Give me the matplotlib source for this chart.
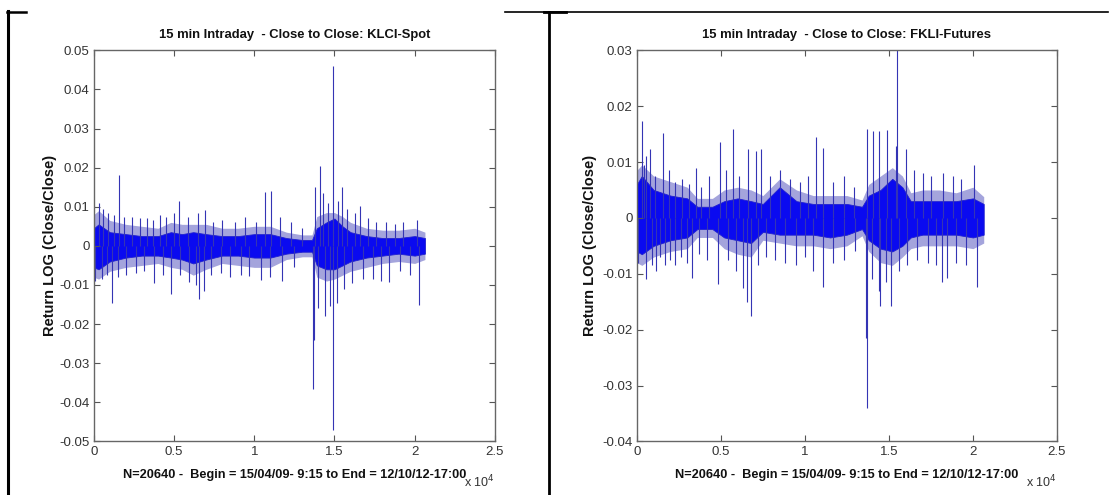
import matplotlib.pyplot as plt
from matplotlib.lines import Line2D

# ---- data (index of 15-min bar, log return) ----
title_left = '15 min Intraday  - Close to Close: KLCI-Spot'
title_right = '15 min Intraday  - Close to Close: FKLI-Futures'
xlabel_txt = 'N=20640 -  Begin = 15/04/09- 9:15 to End = 12/10/12-17:00'
ylabel_txt = 'Return LOG (Close/Close)'

x_ticks = [0, 5000, 10000, 15000, 20000, 25000]
x_ticklabels = ['0', '0.5', '1', '1.5', '2', '2.5']
left_yticks = [-0.05, -0.04, -0.03, -0.02, -0.01, 0, 0.01, 0.02, 0.03, 0.04, 0.05]
left_yticklabels = ['-0.05', '-0.04', '-0.03', '-0.02', '-0.01', '0', '0.01', '0.02', '0.03', '0.04', '0.05']
right_yticks = [-0.04, -0.03, -0.02, -0.01, 0, 0.01, 0.02, 0.03]
right_yticklabels = ['-0.04', '-0.03', '-0.02', '-0.01', '0', '0.01', '0.02', '0.03']

# dense core of the series (upper / lower edge) and the thinner fringe around it
left_band_x = [0, 300, 1000, 2000, 3000, 4000, 4800, 5500, 6200, 7000, 8000, 9000, 10000,
               11000, 12000, 13000, 13600, 13900, 14500, 15000, 15500, 16000, 17000, 18000,
               19000, 20000, 20640]
left_band_hi = [0.0045, 0.0055, 0.0035, 0.003, 0.0025, 0.0025, 0.0035, 0.003, 0.0035, 0.003,
                0.0025, 0.0025, 0.003, 0.003, 0.002, 0.0015, 0.0015, 0.0045, 0.006, 0.007,
                0.005, 0.0035, 0.0025, 0.002, 0.002, 0.0025, 0.002]
left_band_lo = [-0.0055, -0.006, -0.004, -0.003, -0.0025, -0.0025, -0.003, -0.0035, -0.0045,
                -0.0035, -0.0025, -0.0025, -0.003, -0.003, -0.002, -0.0015, -0.0015, -0.005,
                -0.006, -0.006, -0.005, -0.004, -0.003, -0.0025, -0.002, -0.0025, -0.002]
left_fringe_hi = [0.008, 0.009, 0.0065, 0.0055, 0.005, 0.0045, 0.006, 0.0055, 0.0055, 0.0055,
                  0.0045, 0.0045, 0.005, 0.005, 0.0035, 0.0028, 0.0028, 0.0075, 0.0085, 0.0085,
                  0.0075, 0.006, 0.0045, 0.004, 0.004, 0.0045, 0.0035]
left_fringe_lo = [-0.008, -0.0085, -0.0065, -0.0055, -0.005, -0.0045, -0.0055, -0.006, -0.0075,
                  -0.006, -0.0045, -0.005, -0.0055, -0.0055, -0.0035, -0.0028, -0.0028, -0.008,
                  -0.009, -0.0085, -0.0075, -0.0065, -0.0055, -0.0045, -0.004, -0.0045, -0.0035]

left_spike_x = [330, 600, 900, 1250, 1570, 1900, 2400, 2900, 3300, 3700, 4100, 4500, 5000,
                5340, 5900, 6500, 6900, 7400, 8000, 8800, 9400, 10100, 10660, 11060, 11600,
                12300, 13000, 13790, 14080, 14300, 14600, 14940, 15200, 15450, 15800, 16300,
                16600, 17100, 17600, 18200, 18800, 19300, 20150,
                100, 500, 800, 1150, 1500, 2000, 2600, 3100, 3730, 4300, 4830, 5400, 5950,
                6350, 6580, 6850, 7300, 7900, 8500, 9200, 9700, 10400, 11000, 11700, 12500,
                13660, 13700, 14000, 14410, 14700, 14940, 15180, 15600, 16100, 16800, 17400,
                17900, 18430, 19100, 19700, 20300]
left_spike_y = [0.011, 0.0095, 0.0085, 0.008, 0.018, 0.0075, 0.0075, 0.007, 0.007, 0.0065,
                0.008, 0.0075, 0.0085, 0.0115, 0.0075, 0.0085, 0.0092, 0.006, 0.0065, 0.006,
                0.0075, 0.006, 0.0138, 0.014, 0.0075, 0.006, 0.0045, 0.015, 0.0204, 0.0135,
                0.011, 0.046, 0.0115, 0.015, 0.0095, 0.0085, 0.0103, 0.007, 0.006, 0.006,
                0.0055, 0.006, 0.0065,
                -0.009, -0.0085, -0.0075, -0.0146, -0.008, -0.0075, -0.007, -0.0065, -0.0096,
                -0.0075, -0.0123, -0.0075, -0.0092, -0.01, -0.0137, -0.0115, -0.0075, -0.007,
                -0.008, -0.0075, -0.0078, -0.0087, -0.008, -0.009, -0.0055, -0.0367, -0.024,
                -0.016, -0.018, -0.0155, -0.047, -0.0146, -0.011, -0.0095, -0.0085, -0.0085,
                -0.009, -0.0093, -0.0065, -0.0075, -0.015]

right_band_x = [0, 300, 1000, 2000, 3000, 3600, 4500, 5200, 6000, 6800, 7500, 8500, 9500,
                10500, 11500, 12500, 13400, 13800, 14500, 15200, 15800, 16300, 17000, 18000,
                19000, 20000, 20640]
right_band_hi = [0.006, 0.0075, 0.005, 0.004, 0.0035, 0.002, 0.002, 0.003, 0.0035, 0.003,
                 0.0025, 0.0055, 0.003, 0.0025, 0.0025, 0.0025, 0.002, 0.004, 0.005, 0.007,
                 0.0055, 0.003, 0.003, 0.003, 0.003, 0.0035, 0.0025]
right_band_lo = [-0.006, -0.0065, -0.005, -0.004, -0.0035, -0.002, -0.002, -0.0035, -0.004,
                 -0.0045, -0.0025, -0.003, -0.003, -0.003, -0.0035, -0.003, -0.002, -0.004,
                 -0.0055, -0.006, -0.005, -0.0035, -0.003, -0.003, -0.003, -0.0035, -0.003]
right_fringe_hi = [0.0085, 0.0095, 0.0075, 0.0065, 0.0055, 0.0035, 0.0035, 0.005, 0.0055,
                   0.005, 0.004, 0.007, 0.005, 0.004, 0.004, 0.004, 0.0032, 0.006, 0.0075,
                   0.009, 0.0075, 0.0045, 0.005, 0.005, 0.0045, 0.0055, 0.0038]
right_fringe_lo = [-0.008, -0.0085, -0.007, -0.006, -0.0055, -0.0035, -0.0035, -0.0055,
                   -0.0065, -0.007, -0.004, -0.0045, -0.005, -0.005, -0.0055, -0.005, -0.0032,
                   -0.006, -0.008, -0.0085, -0.007, -0.0055, -0.005, -0.005, -0.005, -0.0055,
                   -0.0045]

right_spike_x = [295, 450, 560, 800, 1100, 1580, 1900, 2300, 2700, 3100, 3500, 3800, 4300,
                 4930, 5300, 5710, 6100, 6630, 7100, 7410, 7900, 8500, 9100, 9700, 10200,
                 10680, 11100, 11700, 12300, 12900, 13710, 14050, 14390, 14890, 15500, 15420,
                 16000, 16500, 17000, 17500, 18200, 18800, 19300, 20090,
                 100, 550, 900, 1150, 1400, 1700, 2000, 2300, 2600, 3000, 3260, 3700, 4200,
                 4820, 5400, 5900, 6320, 6570, 6780, 7200, 7700, 8200, 8800, 9500, 10000,
                 10500, 11060, 11700, 12300, 13000, 13670, 13640, 14000, 14430, 14470, 14800,
                 15140, 15600, 16100, 16700, 17300, 17800, 18150, 18470, 19000, 19600, 20260]
right_spike_y = [0.0173, 0.0095, 0.011, 0.0124, 0.0075, 0.0152, 0.0085, 0.0065, 0.007, 0.006,
                 0.009, 0.0055, 0.0075, 0.0135, 0.0085, 0.016, 0.0075, 0.0124, 0.012, 0.0124,
                 0.0075, 0.0085, 0.007, 0.0065, 0.0075, 0.0144, 0.0125, 0.0065, 0.0075, 0.0055,
                 0.016, 0.0155, 0.0155, 0.0157, 0.03, 0.0128, 0.0124, 0.0085, 0.008, 0.0075,
                 0.008, 0.0075, 0.007, 0.0095,
                 -0.008, -0.011, -0.0085, -0.0095, -0.007, -0.0085, -0.0075, -0.0085, -0.007,
                 -0.008, -0.0107, -0.0065, -0.0075, -0.0119, -0.0075, -0.0095, -0.0126, -0.015,
                 -0.0176, -0.0085, -0.007, -0.0075, -0.008, -0.0085, -0.007, -0.0095, -0.0123,
                 -0.008, -0.0075, -0.006, -0.034, -0.0215, -0.011, -0.013, -0.0158, -0.0115,
                 -0.0158, -0.0095, -0.0085, -0.0075, -0.008, -0.0085, -0.0114, -0.0107, -0.008,
                 -0.0085, -0.0123]

# ---- figure ----
fig = plt.figure(figsize=(11.1, 4.95), dpi=100)
W, H = 1110.0, 495.0
font_b = ['Liberation Sans', 'DejaVu Sans']

ax_l = fig.add_axes([93.8 / W, 1 - 441.4 / H, 401.1 / W, 391.1 / H])
ax_r = fig.add_axes([636.8 / W, 1 - 441.4 / H, 420.2 / W, 391.1 / H])

panels = [
    (ax_l, title_left, left_band_x, left_band_hi, left_band_lo, left_fringe_hi, left_fringe_lo,
     left_spike_x, left_spike_y, (-0.05, 0.05), left_yticks, left_yticklabels, 49.6),
    (ax_r, title_right, right_band_x, right_band_hi, right_band_lo, right_fringe_hi,
     right_fringe_lo, right_spike_x, right_spike_y, (-0.04, 0.03), right_yticks,
     right_yticklabels, 590),
]

for ax, ttl, bx, bhi, blo, fhi, flo, sx, sy, ylim, yt, ytl, ylab_x in panels:
    ax.fill_between(bx, flo, fhi, color='#a4a4dc', lw=0)
    ax.vlines(sx, 0, sy, color='#3434b4', lw=0.8)
    ax.fill_between(bx, blo, bhi, color='#0a0af0', lw=0.6, edgecolor='#2020d0')
    ax.set_xlim(0, 25000)
    ax.set_ylim(*ylim)
    ax.set_xticks(x_ticks)
    ax.set_xticklabels(x_ticklabels)
    ax.set_yticks(yt)
    ax.set_yticklabels(ytl)
    ax.tick_params(direction='in', length=4, width=0.8, color='#555555',
                   top=True, right=True, labelsize=9.5, labelcolor='#333333', pad=3)
    for lab in ax.get_xticklabels() + ax.get_yticklabels():
        lab.set_family(font_b)
    for sp in ax.spines.values():
        sp.set_color('#666666')
        sp.set_linewidth(1.0)
    ax.set_title(ttl, fontsize=9.4, fontweight='bold', family=font_b, pad=9, color='#111111')
    ax.set_xlabel(xlabel_txt, fontsize=9.2, fontweight='bold', family=font_b,
                  labelpad=8, color='#111111')
    ax.text(1.0, -0.105, r'x 10$^4$', transform=ax.transAxes, ha='right', va='center',
            fontsize=9, family=font_b, color='#333333')
    fig.text(ylab_x / W, 0.5035, ylabel_txt, rotation=90, ha='center', va='center',
             fontsize=10.5, fontweight='bold', family=font_b, color='#111111')

# table borders around the two pictures
def hline(x0, x1, y, lw):
    fig.add_artist(Line2D([x0 / W, x1 / W], [1 - y / H, 1 - y / H], color='black', lw=lw,
                          transform=fig.transFigure))

def vline(x, y0, y1, lw):
    fig.add_artist(Line2D([x / W, x / W], [1 - y0 / H, 1 - y1 / H], color='black', lw=lw,
                          transform=fig.transFigure))

hline(7, 26, 12, 1.8)
hline(505, 1108, 12, 1.2)
hline(544, 566, 12, 2.0)
vline(8, 11, 495, 2.2)
vline(548.5, 12, 495, 2.0)

fig.savefig('out.png', dpi=100)
